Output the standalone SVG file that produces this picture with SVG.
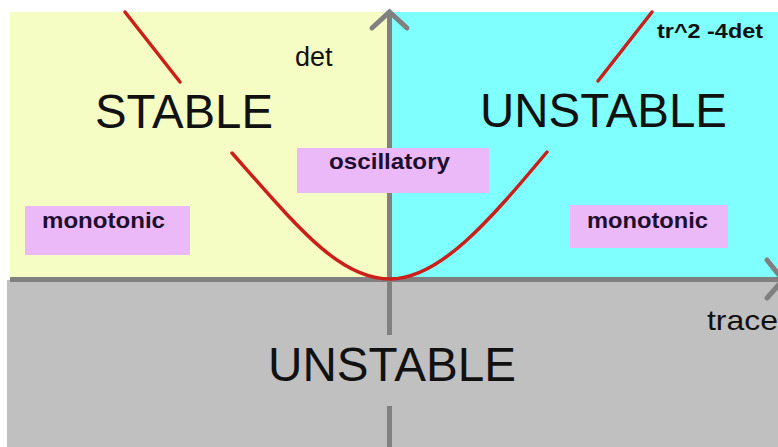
<svg xmlns="http://www.w3.org/2000/svg" width="778" height="447" viewBox="0 0 778 447">
<style>
.big{font-family:"Liberation Sans",Arial,sans-serif;font-size:48px;fill:#111}
.lbl{font-family:"Liberation Sans",Arial,sans-serif;font-weight:bold;font-size:22px;fill:#1e0f30}
.ax{stroke:#808080;stroke-width:5;fill:none}
.axt{font-family:"Liberation Sans",Arial,sans-serif;fill:#111}
.box{fill:#ebb9f7}
.curve{stroke:#cc1f1a;stroke-width:3.5;fill:none;stroke-linecap:round}
</style>
<rect x="0" y="0" width="778" height="447" fill="#ffffff"/>
<g id="region-stable">
<rect x="10" y="12" width="380" height="268" fill="#f6fdc4"/>
<text class="big" x="95" y="128" textLength="178" lengthAdjust="spacingAndGlyphs">STABLE</text>
</g>
<g id="region-unstable-top">
<rect x="390" y="12" width="388" height="268" fill="#80ffff"/>
<text class="big" x="480" y="127" textLength="247" lengthAdjust="spacingAndGlyphs">UNSTABLE</text>
</g>
<g id="region-unstable-bottom">
<rect x="7" y="280" width="771" height="167" fill="#c0c0c0"/>
<text class="big" x="268" y="381" textLength="248" lengthAdjust="spacingAndGlyphs">UNSTABLE</text>
</g>
<g id="connectors">
<path class="ax" d="M10,279.5 H778"/>
<path class="ax" d="M767,260 L783,280 L767,298" stroke-linecap="round"/>
<path class="ax" d="M389.5,14 V280"/>
<path class="ax" d="M389.5,280 V335 M389.5,406 V447"/>
<path class="ax" d="M372,28 L389.5,12 L407,28" stroke-linecap="round"/>
<path class="curve" d="M125,12 L180,82"/>
<path class="curve" d="M652,12 L598,81"/>
<path class="curve" d="M232,153 C300,230 340,279 390,279 C440,279 490,220 547,152"/>
</g>
<g id="label-det"><text class="axt" x="295" y="66" font-size="27">det</text></g>
<g id="label-trace"><text class="axt" x="707" y="330" font-size="28" textLength="71" lengthAdjust="spacingAndGlyphs">trace</text></g>
<g id="label-discriminant"><text class="lbl" x="657" y="38" font-size="20" textLength="106" lengthAdjust="spacingAndGlyphs" style="fill:#111;font-size:20px">tr^2 -4det</text></g>
<g id="box-oscillatory">
<rect class="box" x="297" y="148" width="192" height="45"/>
<text class="lbl" x="329" y="169" textLength="121" lengthAdjust="spacingAndGlyphs">oscillatory</text>
</g>
<g id="box-monotonic-left">
<rect class="box" x="25" y="206" width="165" height="49"/>
<text class="lbl" x="42" y="228" textLength="123" lengthAdjust="spacingAndGlyphs">monotonic</text>
</g>
<g id="box-monotonic-right">
<rect class="box" x="570" y="205" width="158" height="43"/>
<text class="lbl" x="587" y="228" textLength="121" lengthAdjust="spacingAndGlyphs">monotonic</text>
</g>
</svg>
